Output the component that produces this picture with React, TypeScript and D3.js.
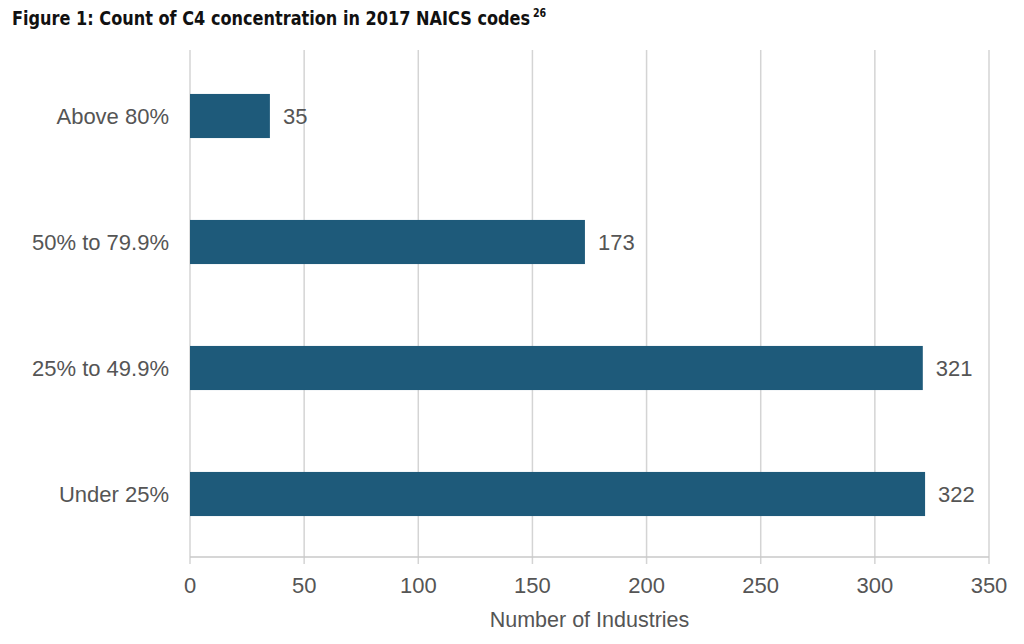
import React from "react";
import * as d3 from "d3";

const categories = ["Above 80%", "50% to 79.9%", "25% to 49.9%", "Under 25%"];
const values = [35, 173, 321, 322];
const xTicks = [0, 50, 100, 150, 200, 250, 300, 350];

export default function App() {
  const W = 1024, H = 644;
  const x = d3.scaleLinear().domain([0, 350]).range([190, 989]);
  const y = d3.scaleBand<string>().domain(categories).range([53, 557]).paddingInner(0.65).paddingOuter(0.325);
  const font = "'Liberation Sans', Arial, sans-serif";
  return (
    <svg width={W} height={H} style={{ position: "absolute", left: 0, top: 0, background: "#fff" }}>
      <text transform="translate(12,25) scale(0.92,1)" fontFamily="'DejaVu Sans Condensed', 'DejaVu Sans', sans-serif" fontWeight="bold" fontSize={19.5} fill="#111">
        Figure 1: Count of C4 concentration in 2017 NAICS codes
        <tspan dx={3} dy={-8} fontSize={11.5}>26</tspan>
      </text>
      {xTicks.map(t => (
        <g key={t}>
          <line x1={x(t)} x2={x(t)} y1={50} y2={564} stroke="#d4d4d4" strokeWidth={1.5} />
          <text x={x(t)} y={593} textAnchor="middle" fontFamily={font} fontSize={22} fill="#555">{t}</text>
        </g>
      ))}
      <line x1={x(0)} x2={x(350)} y1={557} y2={557} stroke="#c8c8c8" strokeWidth={1.5} />
      {categories.map((c, i) => (
        <g key={c}>
          <rect x={x(0)} y={y(c)} width={x(values[i]) - x(0)} height={y.bandwidth()} fill="#1e5a7a" />
          <text x={169} y={(y(c) as number) + y.bandwidth() / 2} dy="0.36em" textAnchor="end" fontFamily={font} fontSize={22} fill="#555">{c}</text>
          <text x={x(values[i]) + 13} y={(y(c) as number) + y.bandwidth() / 2} dy="0.36em" fontFamily={font} fontSize={22} fill="#555">{values[i]}</text>
        </g>
      ))}
      <text x={x(175)} y={627} textAnchor="middle" fontFamily={font} fontSize={21.5} fill="#555">Number of Industries</text>
    </svg>
  );
}
